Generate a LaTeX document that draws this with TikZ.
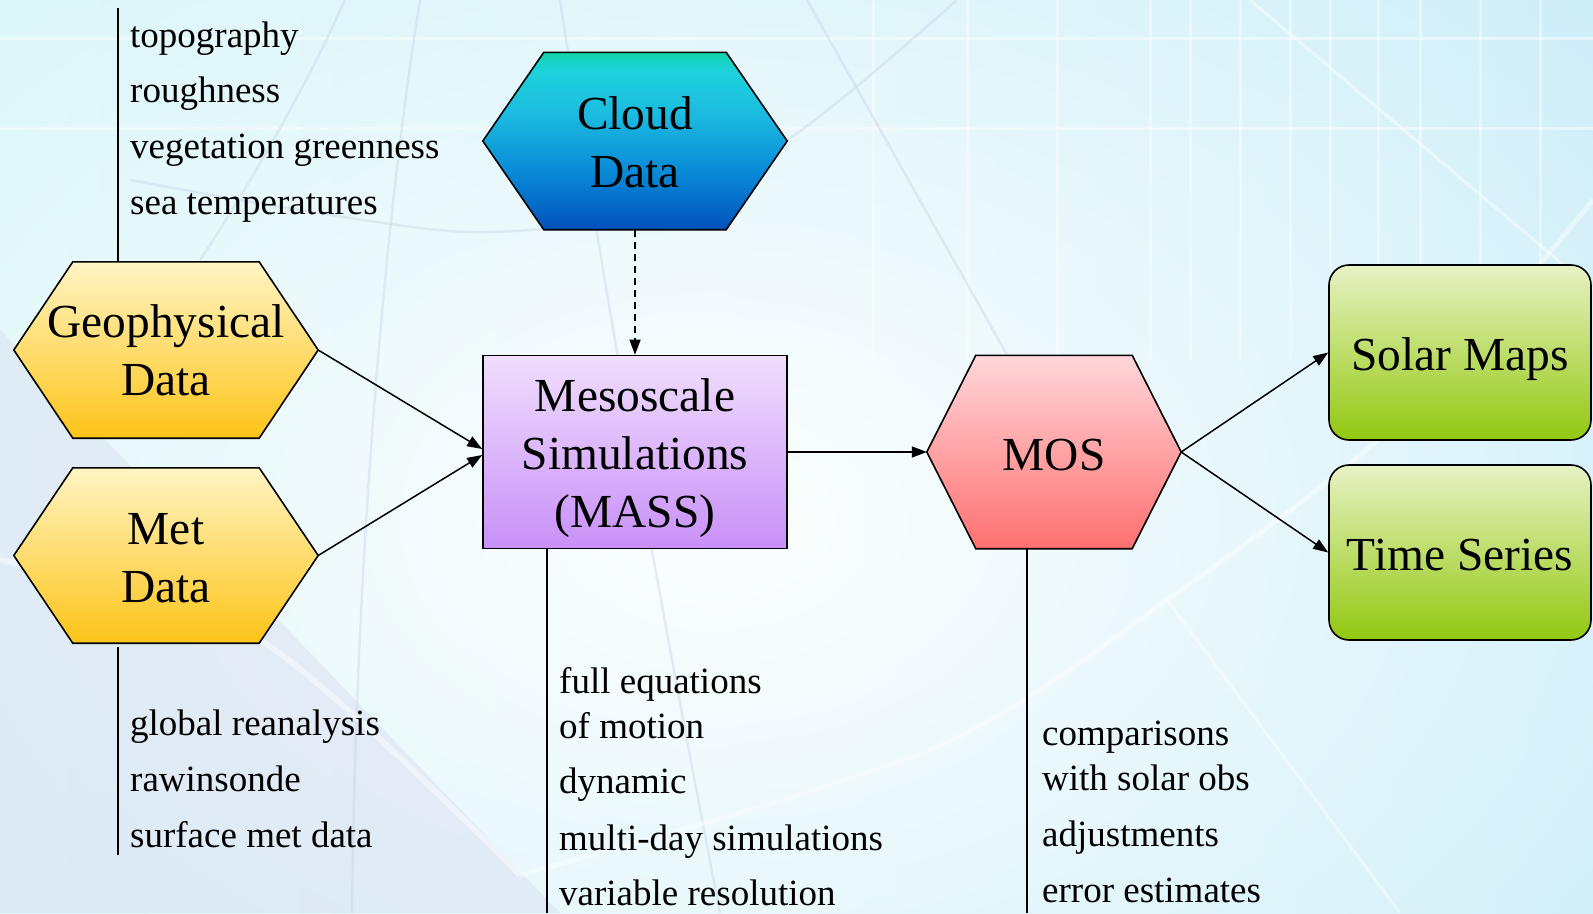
\documentclass[tikz,border=0pt]{standalone}
\usepackage{fontspec}
\setmainfont{Liberation Serif}
\usetikzlibrary{arrows.meta,fadings}

\definecolor{bgL}{HTML}{D4F4F8}
\definecolor{bgR}{HTML}{C8ECF8}
\definecolor{lav}{HTML}{D8DCF0}
\definecolor{decoline}{HTML}{C4CCE4}
\definecolor{geoT}{HTML}{FFF4C4}
\definecolor{geoB}{HTML}{FDC418}
\definecolor{massT}{HTML}{F0DEFC}
\definecolor{massB}{HTML}{C890F8}
\definecolor{mosT}{HTML}{FFD6DA}
\definecolor{mosB}{HTML}{FF7070}
\definecolor{grT}{HTML}{E8F2C4}
\definecolor{grB}{HTML}{92C810}
\definecolor{cloudB}{HTML}{0052BC}
\definecolor{cloudMa}{HTML}{0A8CD8}
\definecolor{cloudMb}{HTML}{1CBCE0}
\definecolor{cloudMc}{HTML}{1ED2DC}
\definecolor{cloudT}{HTML}{10D4A8}

\pgfdeclareverticalshading{cloudsh}{100bp}{color(0bp)=(cloudB); color(25bp)=(cloudB); color(42bp)=(cloudMa); color(58bp)=(cloudMb); color(70bp)=(cloudMc); color(75bp)=(cloudT); color(100bp)=(cloudT)}

\tikzfading[name=glow, inner color=transparent!0, outer color=transparent!100]

\pgfdeclarelayer{bg}
\pgfdeclarelayer{shp}
\pgfsetlayers{bg,shp,main}

\newcommand{\NdFont}{\fontsize{47.4}{58}\selectfont}
\newcommand{\AnFont}{\fontsize{37}{44}\selectfont}

\newcommand{\hexshape}[3]{%
  \begin{pgfonlayer}{shp}
  \path[#3] (#1.west) -- ([xshift=#2]#1.north west) -- ([xshift=-#2]#1.north east)
     -- (#1.east) -- ([xshift=-#2]#1.south east) -- ([xshift=#2]#1.south west) -- cycle;
  \end{pgfonlayer}}

\tikzset{
  hexn/.style={draw=none, inner sep=0pt, align=center, font=\NdFont},
  outl/.style={draw=black, line width=1.6pt},
  boxn/.style={outl, inner sep=0pt, align=center, font=\NdFont},
  oneline/.style={text height=36pt, text depth=0pt},
  ann/.style={anchor=base west, inner sep=0pt, font=\AnFont},
  annline/.style={line width=2pt, black},
  conn/.style={line width=1.5pt, -{Triangle[length=15pt,width=11pt]}},
  decow/.style={white, line width=3pt, opacity=0.45},
  decog/.style={decoline, line width=2.5pt, opacity=0.35},
}

\begin{document}
\begin{tikzpicture}[x=1pt,y=-1pt]
\useasboundingbox (0,0) rectangle (1593,913);

% ---------- background ----------
\begin{pgfonlayer}{bg}
\shade[left color=bgL, right color=bgR] (0,0) rectangle (1593,913);
\fill[white, path fading=glow, opacity=0.95] (720,520) ellipse [x radius=1300, y radius=900];
\fill[lav, opacity=0.45] (0,330) -- (560,913) -- (0,913) -- cycle;
% grid
\foreach \gx in {873,967,1057,1150,1190,1240,1290,1330,1378,1420,1480,1540}
  \draw[decow, opacity=0.4] (\gx,0) -- (\gx,360);
\draw[decow] (0,38) -- (1593,38);
\draw[decow] (0,128) -- (1593,128);
% curves
\draw[decog] (420,0) .. controls (380,250) and (355,600) .. (352,913);
\draw[decog] (560,0) .. controls (590,200) and (640,500) .. (720,913);
\draw[decog] (807,0) -- (1010,360);
\draw[decog] (345,0) .. controls (300,100) and (240,200) .. (200,260);
\draw[decog] plot[smooth] coordinates {(130,180) (300,210) (470,232) (620,215) (787,140) (957,0)};
\draw[decow, line width=6pt, opacity=0.45] plot[smooth] coordinates {(0,560) (260,640) (520,875) };
\draw[decow, line width=5pt] plot[smooth] coordinates {(520,875) (930,750) (1167,600) (1400,420) (1593,200)};
\draw[decow] (1167,600) -- (1400,913);
\draw[decow] (1250,0) -- (1593,290);
\end{pgfonlayer}

% ---------- nodes ----------
\node[hexn, minimum width=304pt, minimum height=176pt] (geo) at (166,350) {Geophysical\\Data};
\hexshape{geo}{59}{outl, top color=geoT, bottom color=geoB}
\node[hexn, minimum width=304pt, minimum height=175pt] (met) at (166,555.5) {\rule{0pt}{36pt}Met\\Data};
\hexshape{met}{59}{outl, top color=geoT, bottom color=geoB}
\node[hexn, minimum width=304pt, minimum height=177pt] (cloud) at (635,141) {\rule{0pt}{36pt}Cloud\\Data};
\hexshape{cloud}{61}{outl, shading=cloudsh}
\node[boxn, minimum width=304pt, minimum height=193pt, top color=massT, bottom color=massB] (mass) at (635,452) {\rule{0pt}{46pt}Mesoscale\\Simulations\\(MASS)};
\node[hexn, oneline, minimum width=254pt, minimum height=193pt] (mos) at (1054,452) {MOS};
\hexshape{mos}{49}{outl, top color=mosT, bottom color=mosB}
\node[boxn, oneline, rounded corners=20pt, minimum width=262pt, minimum height=175pt, top color=grT, bottom color=grB] (solar) at (1460,352.5) {Solar Maps};
\node[boxn, oneline, rounded corners=20pt, minimum width=262pt, minimum height=175pt, top color=grT, bottom color=grB] (time) at (1460,552.5) {Time Series};

% ---------- connectors ----------
\draw[conn] (geo.east) -- ([yshift=3pt]mass.west);
\draw[conn] (met.east) -- ([yshift=-3pt]mass.west);
\draw[conn, dash pattern=on 7pt off 5pt] (cloud.south) -- (mass.north);
\draw[conn] (mass.east) -- (mos.west);
\draw[conn] (mos.east) -- (solar.west);
\draw[conn] (mos.east) -- (time.west);

% ---------- annotation lines ----------
\coordinate (gtop) at (118,8);
\draw[annline] (gtop) -- (gtop |- geo.north);
\coordinate (mend) at (118,855);
\draw[annline] ([yshift=-4pt]mend |- met.south) -- (mend);
\coordinate (massend) at (547,913);
\draw[annline] (massend |- mass.south) -- (massend);
\coordinate (mosend) at (1027,913);
\draw[annline] (mosend |- mos.south) -- (mosend);

% ---------- annotation texts ----------
\node[ann] (g1) at (130,47) {topography};
\node[ann] (g2) at (130,102.5) {roughness};
\node[ann] (g3) at (130,158) {vegetation greenness};
\node[ann] (g4) at (130,214) {sea temperatures};

\node[ann] (m1) at (130,735) {global reanalysis};
\node[ann] (m2) at (130,791) {rawinsonde};
\node[ann] (m3) at (130,847) {surface met data};

\node[ann] (s1) at (559,693) {full equations};
\node[ann] (s2) at (559,738) {of motion};
\node[ann] (s3) at (559,793) {dynamic};
\node[ann] (s4) at (559,850) {multi-day simulations};
\node[ann] (s5) at (559,905) {variable resolution};

\node[ann] (o1) at (1042,745) {comparisons};
\node[ann] (o2) at (1042,790) {with solar obs};
\node[ann] (o3) at (1042,846) {adjustments};
\node[ann] (o4) at (1042,902) {error estimates};
\end{tikzpicture}
\end{document}
